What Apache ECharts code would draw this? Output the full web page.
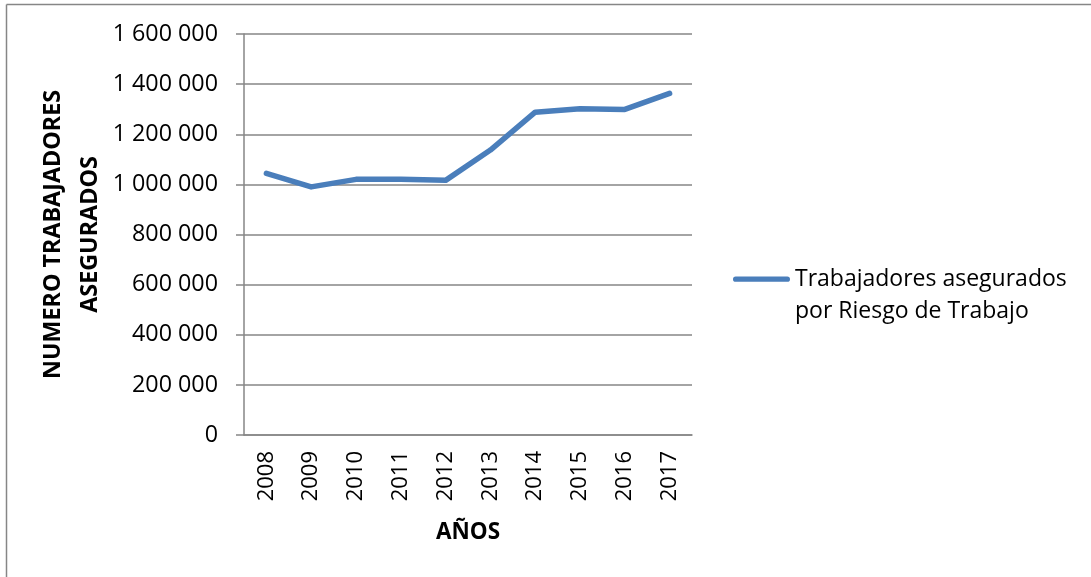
<!DOCTYPE html>
<html>
<head>
<meta charset="utf-8">
<script src="https://cdn.jsdelivr.net/npm/echarts@6/dist/echarts.min.js"></script>
<style>
  html, body { margin: 0; padding: 0; background: #fff; }
  #chart { width: 1091px; height: 577px; }
</style>
</head>
<body>
<div id="chart"></div>
<script>
// datos
const years = ["2008", "2009", "2010", "2011", "2012", "2013", "2014", "2015", "2016", "2017"];
const asegurados = [1044000, 990000, 1020000, 1020000, 1016000, 1137000, 1288000, 1302000, 1299000, 1363000];
const yTicks = { min: 0, max: 1600000, step: 200000 };

const FONT = "Open Sans";
const GRAY = "#868686";
const BLUE = "#4A7EBB";

function miles(v) {
  return String(v).replace(/\B(?=(\d{3})+(?!\d))/g, " ");
}

const myChart = echarts.init(document.getElementById("chart"));

const option = {
  animation: false,
  backgroundColor: "#fff",
  textStyle: { fontFamily: FONT },
  grid: { left: 244, right: 399, top: 34, bottom: 142 },
  graphic: [
    // marco del area del grafico
    { type: "line", shape: { x1: 6.5, y1: 4.5, x2: 1091, y2: 4.5 }, style: { stroke: GRAY, lineWidth: 1.5 } },
    { type: "line", shape: { x1: 6.5, y1: 4.5, x2: 6.5, y2: 577 }, style: { stroke: GRAY, lineWidth: 1.5 } }
  ],
  legend: {
    left: 733,
    top: 263,
    padding: 0,
    orient: "vertical",
    itemWidth: 57,
    itemHeight: 64,
    itemGap: 0,
    // linea en la altura del primer renglon
    icon: "path://M0,0L0,0M2.5,13.25L54.5,13.25A2.75,2.75,0,0,1,54.5,18.75L2.5,18.75A2.75,2.75,0,0,1,2.5,13.25Z M0,64L0,64",
    itemStyle: { color: BLUE, borderWidth: 0 },
    data: [{ name: "Trabajadores asegurados\npor Riesgo de Trabajo" }],
    textStyle: { fontFamily: FONT, fontSize: 23, color: "#000", lineHeight: 32 }
  },
  xAxis: {
    type: "category",
    data: years,
    name: "AÑOS",
    nameLocation: "middle",
    nameGap: 86,
    nameTextStyle: { fontFamily: FONT, fontWeight: "bold", fontSize: 22.5, color: "#000" },
    axisLine: { lineStyle: { color: GRAY, width: 1.5 } },
    axisTick: { show: false },
    axisLabel: { rotate: 90, margin: 16, fontSize: 22, color: "#000", fontFamily: FONT }
  },
  yAxis: {
    type: "value",
    min: yTicks.min,
    max: yTicks.max,
    interval: yTicks.step,
    name: "NUMERO TRABAJADORES\nASEGURADOS",
    nameLocation: "middle",
    nameRotate: 90,
    nameGap: 129,
    nameTextStyle: { fontFamily: FONT, fontWeight: "bold", fontSize: 23.3, color: "#000", lineHeight: 37, align: "center" },
    axisLine: { show: true, lineStyle: { color: GRAY, width: 1.5 } },
    axisTick: { show: true, length: 8, lineStyle: { color: GRAY, width: 1.5 } },
    splitLine: { lineStyle: { color: GRAY, width: 1.5 } },
    axisLabel: { margin: 26, fontSize: 23.3, color: "#000", fontFamily: FONT, formatter: miles }
  },
  series: [
    {
      name: "Trabajadores asegurados\npor Riesgo de Trabajo",
      type: "line",
      data: asegurados,
      symbol: "none",
      itemStyle: { color: BLUE },
      lineStyle: { color: BLUE, width: 5.5, cap: "round", join: "round" }
    }
  ]
};

myChart.setOption(option);
</script>
</body>
</html>
